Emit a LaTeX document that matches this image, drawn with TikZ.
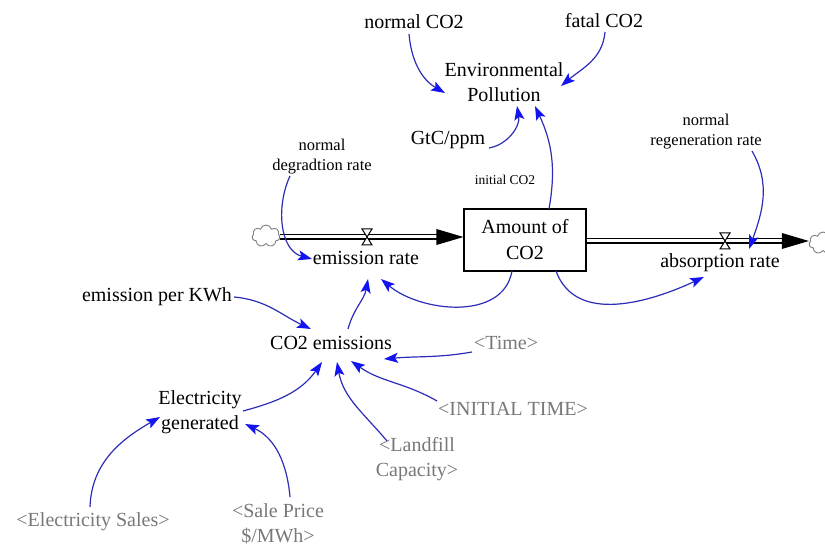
\documentclass[tikz,border=0pt]{standalone}
\usepackage{fontspec}
\setmainfont{Liberation Serif}
\newfontfamily\diagfont{Liberation Serif}
\usetikzlibrary{arrows.meta,calc,shapes.symbols}

\definecolor{linkblue}{RGB}{45,45,185}
\definecolor{headblue}{RGB}{20,20,240}
\definecolor{shadowgray}{RGB}{120,120,120}

\tikzset{
  var/.style={inner sep=2pt, align=center, font=\diagfont\fontsize{20}{25}\selectfont},
  smallvar/.style={inner sep=2pt, align=center, font=\diagfont\fontsize{16.5}{20}\selectfont},
  tinyvar/.style={inner sep=2pt, font=\diagfont\fontsize{13.5}{16}\selectfont},
  shadowvar/.style={var, text=shadowgray},
  stockbox/.style={draw, line width=1.1pt, minimum width=122pt, minimum height=62pt,
    inner sep=0pt, align=center, font=\diagfont\fontsize{20}{26}\selectfont},
  link/.style={draw=linkblue, line width=1.2pt,
    -{Stealth[length=14pt,width=10pt,inset=3pt,color=headblue]}},
  pipe/.style={draw=black, double=white, line width=1.3pt, double distance=3pt},
  sourcesink/.style={cloud, cloud puffs=7, draw=gray, line width=0.9pt,
    minimum width=28pt, minimum height=22pt, inner sep=0pt},
  valveshape/.style={draw=black, fill=white, line width=1pt},
}

\begin{document}
\begin{tikzpicture}[x=1pt, y=-1pt]
\path[use as bounding box, fill=white] (0,0) rectangle (825,548);

% ---- variables ----
\node[var] (nco2) at (414,22) {normal CO2};
\node[var] (fco2) at (604,21) {fatal CO2};
\node[var] (ep) at (504,82) {Environmental\\Pollution};
\node[var] (gtc) at (448,140) {GtC/ppm};
\node[smallvar] (ndr) at (322,157) {normal\\degradtion rate};
\node[tinyvar] (ico2) at (505,180) {initial CO2};
\node[smallvar] (nrr) at (706,132) {normal\\regeneration rate};
\node[stockbox] (stock) at (525,240) {Amount of\\CO2};
\node[var] (emr) at (366,258) {emission rate};
\node[var] (abr) at (720,263) {absorption rate};
\node[var] (epk) at (157,297) {emission per KWh};
\node[var] (co2e) at (331,343) {CO2 emissions};
\node[shadowvar] (time) at (506,343) {<Time>};
\node[shadowvar] (it) at (513,409) {<INITIAL TIME>};
\node[shadowvar] (lf) at (417,459) {<Landfill\\Capacity>};
\node[var] (eg) at (200,412) {Electricity\\generated};
\node[shadowvar] (es) at (93,522) {<Electricity Sales>};
\node[shadowvar] (sp) at (278,524) {<Sale Price\\\$/MWh>};

% ---- source and sink ----
\node[sourcesink] (lcloud) at (266,236) {};
\node[sourcesink] (rcloud) at (823,243) {};

% ---- flows ----
\coordinate (lval) at (367,237);
\coordinate (rval) at (725,241);
\draw[pipe] (lcloud.east |- lval) -- ($(stock.west |- lval)+(-25,0)$);
\fill ($(stock.west |- lval)$) -- ++(-27,-8) -- ++(0,16) -- cycle;
\draw[pipe] (stock.east |- rval) -- ($(rcloud.west |- rval)+(-24,0)$);
\fill ($(rcloud.west |- rval)$) -- ++(-27,-8) -- ++(0,16) -- cycle;
\draw[valveshape] ($(lval)+(-5,-8)$) -- ($(lval)+(5,-8)$) -- ($(lval)+(-5,8)$) -- ($(lval)+(5,8)$) -- cycle;
\draw[valveshape] ($(rval)+(-5,-8)$) -- ($(rval)+(5,-8)$) -- ($(rval)+(-5,8)$) -- ($(rval)+(5,8)$) -- cycle;

% ---- causal links ----
\draw[link] ($(nco2)+(-5,12)$) to[out=-85,in=150] ($(ep)+(-59,11)$);
\draw[link] ($(fco2)+(1,11)$) to[out=-95,in=40] ($(ep)+(57,4)$);
\draw[link] ($(gtc)+(41,8)$) to[out=10,in=-80] ($(ep)+(13,24)$);
\draw[link] ($(stock)+(24,-31)$) to[out=80,in=-65] ($(ep)+(31,24)$);
\draw[link] ($(ndr)+(-32,19)$) to[out=-115,in=165] ($(emr)+(-54,1)$);
\draw[link] ($(nrr)+(46,19)$) to[out=-60,in=70] ($(abr)+(29,-14)$);
\draw[link] ($(stock)+(-13,31)$) to[out=-100,in=-40] ($(emr)+(15,21)$);
\draw[link] ($(stock)+(31,31)$) to[out=-70,in=-155] ($(abr)+(-16,14)$);
\draw[link] ($(co2e)+(17,-14)$) to[out=75,in=-100] ($(emr)+(2,21)$);
\draw[link] ($(epk)+(77,0)$) to[out=-5,in=155] ($(co2e)+(-20,-14)$);
\draw[link] ($(time)+(-34,9)$) to[out=190,in=5] ($(co2e)+(53,16)$);
\draw[link] ($(it)+(-76,-8)$) to[out=150,in=-35] ($(co2e)+(20,18)$);
\draw[link] ($(lf)+(-30,-18)$) to[out=130,in=-80] ($(co2e)+(6,19)$);
\draw[link] ($(eg)+(43,-1)$) to[out=15,in=-125] ($(co2e)+(-9,19)$);
\draw[link] ($(es)+(-3,-15)$) to[out=88,in=-150] ($(eg)+(-40,5)$);
\draw[link] ($(sp)+(12,-27)$) to[out=95,in=-25] ($(eg)+(45,12)$);
\end{tikzpicture}
\end{document}
